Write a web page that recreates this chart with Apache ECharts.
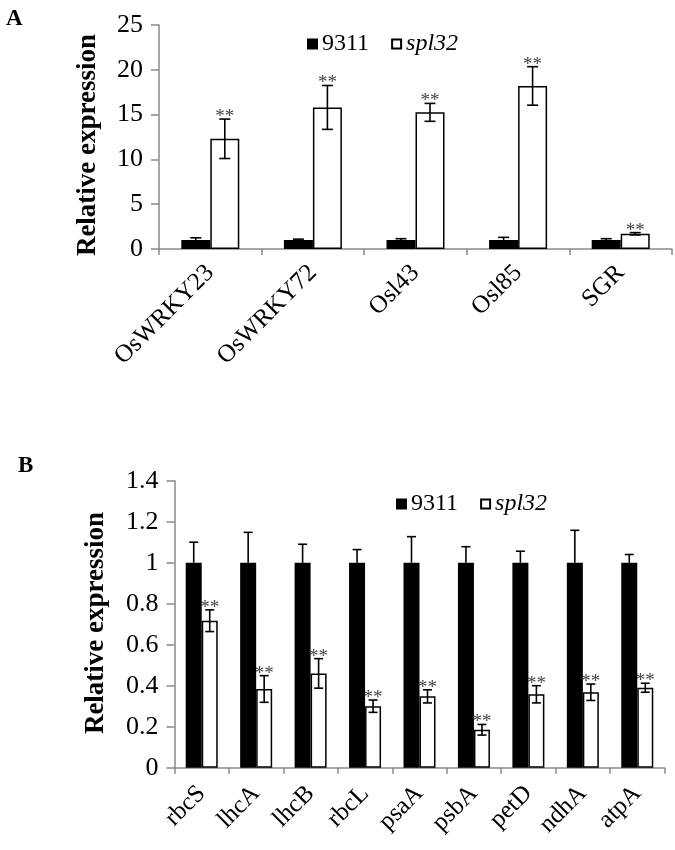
<!DOCTYPE html>
<html>
<head>
<meta charset="utf-8">
<script src="https://cdn.jsdelivr.net/npm/echarts@6/dist/echarts.min.js"></script>
<style>html,body{margin:0;padding:0;background:#fff;}#c{width:675px;height:850px;}</style>
</head>
<body>
<div id="c"></div>
<script>
const catsA = ['OsWRKY23', 'OsWRKY72', 'Osl43', 'Osl85', 'SGR'];
const a9311 = [1, 1, 1, 1, 1];
const a9311Err = [0.25, 0.1, 0.15, 0.3, 0.15];
const aSpl = [12.3, 15.8, 15.25, 18.2, 1.7];
const aSplErr = [2.2, 2.45, 1.0, 2.15, 0.13];
const ticksA = [0, 5, 10, 15, 20, 25];

const catsB = ['rbcS', 'lhcA', 'lhcB', 'rbcL', 'psaA', 'psbA', 'petD', 'ndhA', 'atpA'];
const b9311 = [1, 1, 1, 1, 1, 1, 1, 1, 1];
const b9311Err = [0.10, 0.148, 0.09, 0.064, 0.127, 0.078, 0.056, 0.158, 0.04];
const bSpl = [0.717, 0.384, 0.46, 0.30, 0.348, 0.185, 0.358, 0.368, 0.39];
const bSplErr = [0.053, 0.065, 0.072, 0.03, 0.032, 0.026, 0.042, 0.04, 0.022];
const ticksB = [0, 0.2, 0.4, 0.6, 0.8, 1, 1.2, 1.4];

const yTitle = 'Relative expression';

const FONT = '"Liberation Serif", "Times New Roman", serif';
const AXIS_GRAY = '#8a8a8a';
const BW_A = 29, BW_B = 16;

function errSeries(grid, vals, errs, side, bw, both, stars) {
  return {
    type: 'custom',
    xAxisIndex: grid, yAxisIndex: grid,
    z: 10,
    clip: false,
    encode: { x: 0, y: 1 },
    data: vals.map((v, i) => [i, v, errs[i]]),
    renderItem: function (params, api) {
      const idx = api.value(0), v = api.value(1), e = api.value(2);
      const c = api.coord([idx, v]);
      const x = c[0] + side * bw / 2;
      const yt = api.coord([idx, v + e])[1];
      const yb = both ? api.coord([idx, v - e])[1] : c[1];
      const cap = bw === BW_A ? 5.5 : 4.5;
      const st = { stroke: '#000', lineWidth: 1.6 };
      const ch = [
        { type: 'line', shape: { x1: x, y1: yt, x2: x, y2: yb }, style: st },
        { type: 'line', shape: { x1: x - cap, y1: yt, x2: x + cap, y2: yt }, style: st }
      ];
      if (both) ch.push({ type: 'line', shape: { x1: x - cap, y1: yb, x2: x + cap, y2: yb }, style: st });
      if (stars) ch.push({
        type: 'text',
        style: { text: '**', x: x, y: yt - 2, align: 'center', verticalAlign: 'middle',
                 font: '19px ' + FONT, fill: '#444' }
      });
      return { type: 'group', children: ch };
    }
  };
}

function barSeries(grid, name, vals, bw, dark) {
  return {
    name: name, type: 'bar', xAxisIndex: grid, yAxisIndex: grid,
    data: vals, barWidth: bw, barGap: '0%',
    itemStyle: { color: dark ? '#000' : '#fff', borderColor: '#000', borderWidth: 1.5 }
  };
}

function xAxis(grid, cats, margin) {
  return {
    type: 'category', gridIndex: grid, data: cats,
    axisLine: { lineStyle: { color: AXIS_GRAY, width: 1.5 } },
    axisTick: { show: true, length: 6, lineStyle: { color: AXIS_GRAY, width: 1.5 } },
    axisLabel: { rotate: 45, interval: 0, margin: margin, fontFamily: FONT, fontSize: 25, color: '#000' },
    splitLine: { show: false }
  };
}

function yAxis(grid, ticks) {
  return {
    type: 'value', gridIndex: grid, min: ticks[0], max: ticks[ticks.length - 1],
    interval: ticks[1] - ticks[0],
    axisLine: { show: true, lineStyle: { color: AXIS_GRAY, width: 1.5 } },
    axisTick: { show: true, length: 8, lineStyle: { color: AXIS_GRAY, width: 1.5 } },
    axisLabel: { margin: 16, fontFamily: FONT, fontSize: 26, color: '#000',
                 formatter: v => String(Math.round(v * 10) / 10) },
    splitLine: { show: false }
  };
}

function legend(left, top) {
  return {
    left: left, top: top, itemWidth: 9, itemHeight: 9, itemGap: 22, icon: 'rect',
    data: ['9311', 'spl32'],
    textStyle: { fontFamily: FONT, fontSize: 24, color: '#000',
                 rich: { i: { fontFamily: FONT, fontSize: 24, fontStyle: 'italic', color: '#000' } } },
    formatter: n => n === 'spl32' ? '{i|spl32}' : n,
    selectedMode: false
  };
}

function yTitleText(cx, cy) {
  return {
    type: 'text', x: cx, y: cy, rotation: Math.PI / 2,
    style: { text: yTitle, align: 'center', verticalAlign: 'middle',
             font: 'bold 27px ' + FONT, fill: '#000' }
  };
}

const chart = echarts.init(document.getElementById('c'), null, { renderer: 'canvas' });
chart.setOption({
  animation: false,
  backgroundColor: '#fff',
  title: [
    { text: 'A', left: 1, top: 3, textStyle: { fontFamily: FONT, fontSize: 23, fontWeight: 'bold', color: '#000' } },
    { text: 'B', left: 13, top: 450, textStyle: { fontFamily: FONT, fontSize: 23, fontWeight: 'bold', color: '#000' } }
  ],
  graphic: [yTitleText(88, 145), yTitleText(96, 623)],
  legend: [legend(302, 27), legend(391, 487)],
  grid: [
    { left: 159, right: 3, top: 25, bottom: 601 },
    { left: 174.5, right: 10.5, top: 480.7, bottom: 82.3 }
  ],
  xAxis: [xAxis(0, catsA, 20), xAxis(1, catsB, 22)],
  yAxis: [yAxis(0, ticksA), yAxis(1, ticksB)],
  series: [
    barSeries(0, '9311', a9311, BW_A, true),
    barSeries(0, 'spl32', aSpl, BW_A, false),
    errSeries(0, a9311, a9311Err, -1, BW_A, false, false),
    errSeries(0, aSpl, aSplErr, 1, BW_A, true, true),
    barSeries(1, '9311', b9311, BW_B, true),
    barSeries(1, 'spl32', bSpl, BW_B, false),
    errSeries(1, b9311, b9311Err, -1, BW_B, false, false),
    errSeries(1, bSpl, bSplErr, 1, BW_B, true, true)
  ]
});
</script>
</body>
</html>
